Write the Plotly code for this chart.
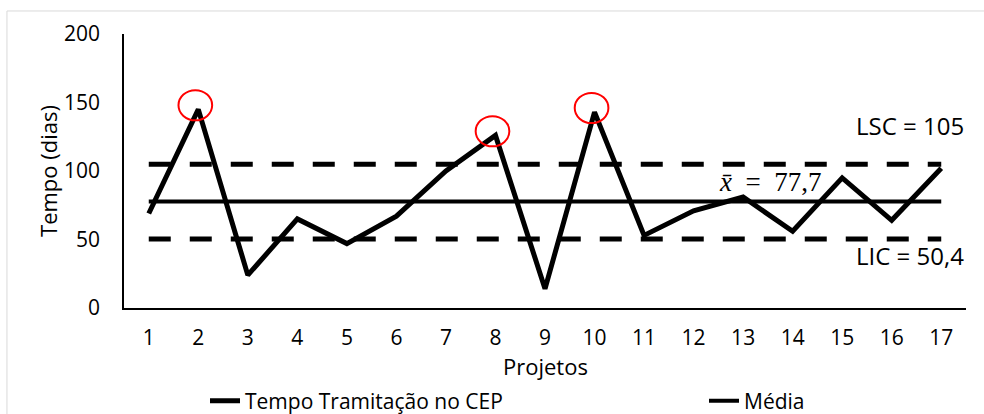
import plotly.graph_objects as go

# Tempo de tramitação (dias) por projeto
projetos = [str(i) for i in range(1, 18)]
tempo = [69, 145, 24, 65, 47, 67, 100, 126, 14, 143, 53, 71, 81, 56, 95, 64, 102]

media = 77.7
lsc = 105
lic = 50.4

y_ticks = [0, 50, 100, 150, 200]

FONT = "Open Sans"
INK = "#000000"

fig = go.Figure()

# control limits (dashed)
for lim in (lsc, lic):
    fig.add_trace(go.Scatter(
        x=projetos, y=[lim] * len(projetos), mode="lines",
        line=dict(color=INK, width=5, dash="22px,19px"),
        showlegend=False, hoverinfo="skip",
    ))

fig.add_trace(go.Scatter(
    x=projetos, y=[media] * len(projetos), mode="lines",
    name="Média", line=dict(color=INK, width=4), legend="legend2",
))

fig.add_trace(go.Scatter(
    x=projetos, y=tempo, mode="lines",
    name="Tempo Tramitação no CEP", line=dict(color=INK, width=5), legend="legend",
))

# red ellipses around the points above the upper limit
for i, v in enumerate(tempo):
    if v > lsc:
        fig.add_shape(
            type="circle", xref="x", yref="y",
            x0=i - 0.4, x1=i + 0.28, y0=v - 8, y1=v + 14,
            line=dict(color="#ff0000", width=2),
        )

# outer chart frame
fig.add_shape(
    type="rect", xref="paper", yref="paper",
    x0=-0.139, x1=1.2, y0=-0.45, y1=1.084,
    line=dict(color="#d9d9d9", width=1), layer="below",
)

fig.add_annotation(
    text=f"LSC = {lsc}", xref="paper", yref="y", x=1.0, y=133,
    xanchor="right", yanchor="middle", showarrow=False,
    font=dict(family=FONT, size=24, color=INK),
)
fig.add_annotation(
    text=f"LIC = {str(lic).replace('.', ',')}", xref="paper", yref="y", x=1.0, y=38,
    xanchor="right", yanchor="middle", showarrow=False,
    font=dict(family=FONT, size=24, color=INK),
)
fig.add_annotation(
    text=f"<i>x̄</i>&nbsp;&nbsp;=&nbsp;&nbsp;{str(media).replace('.', ',')}",
    xref="paper", yref="y",
    x=0.767, y=92, xanchor="center", yanchor="middle", showarrow=False,
    font=dict(family="Liberation Serif", size=27, color=INK),
)

# x axis title
fig.add_annotation(
    text="Projetos", xref="paper", yref="paper", x=0.5, y=-0.212,
    xanchor="center", yanchor="middle", showarrow=False,
    font=dict(family=FONT, size=22, color=INK),
)

legend_common = dict(
    orientation="h", yanchor="top", xanchor="left",
    font=dict(family=FONT, size=21, color=INK),
    bgcolor="rgba(0,0,0,0)",
)

fig.update_layout(
    width=984, height=414,
    margin=dict(l=124, r=18, t=34, b=106, autoexpand=False),
    paper_bgcolor="white", plot_bgcolor="white",
    font=dict(family=FONT, size=21, color=INK),
    showlegend=True,
    legend=dict(x=(205 - 124) / 842, y=-0.265, **legend_common),
    legend2=dict(x=(704 - 124) / 842, y=-0.265, **legend_common),
    xaxis=dict(
        type="category", range=[-0.5, 16.5],
        showline=True, linecolor=INK, linewidth=1.5,
        showgrid=False, zeroline=False, ticks="",
        ticklabelstandoff=10,
        tickfont=dict(family=FONT, size=21, color=INK),
    ),
    yaxis=dict(
        range=[0, 200], tickvals=y_ticks,
        showline=True, linecolor=INK, linewidth=1.5,
        showgrid=False, zeroline=False, ticks="",
        ticklabelstandoff=18,
        tickfont=dict(family=FONT, size=21, color=INK),
        title=dict(text="Tempo (dias)", standoff=0,
                   font=dict(family=FONT, size=22, color=INK)),
    ),
)

fig.write_html("out.html")
